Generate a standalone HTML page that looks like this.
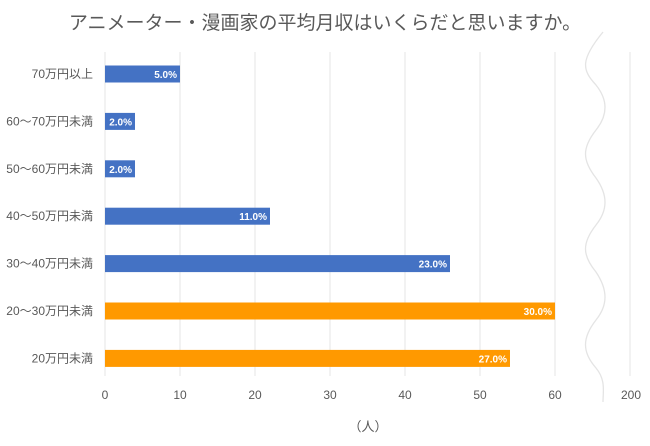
<!DOCTYPE html>
<html><head><meta charset="utf-8"><style>
body{margin:0;background:#fff;}
svg{display:block;font-family:"Liberation Sans","Noto Sans CJK JP",sans-serif;}
</style></head><body>
<svg id="chart" width="650" height="446">
<text x="325" y="29" text-anchor="middle" font-size="19" fill="#595959">アニメーター・漫画家の平均月収はいくらだと思いますか。</text>
<g id="grid"></g><g id="bars"></g><g id="labels"></g>
<path fill="none" stroke="#e4e4e4" stroke-width="1.3" d="M603,32 C580,60 582,70 596,85 C608,100 608,115 596,130 C582,148 582,160 596,178 C608,195 608,210 596,225 C582,243 582,255 596,272 C608,290 608,305 596,320 C582,338 582,352 596,368 C606,380 603,392 603,402"/>
<line x1="630" y1="52" x2="630" y2="376" stroke="#e4e4e4"/>
<text x="631" y="399" text-anchor="middle" font-size="12" fill="#595959">200</text>
<text x="368" y="431" text-anchor="middle" font-size="13" fill="#595959">（人）</text>
</svg>
<script>
const categories=["70万円以上","60～70万円未満","50～60万円未満","40～50万円未満","30～40万円未満","20～30万円未満","20万円未満"];
const values=[10,4,4,22,46,60,54];
const percents=["5.0%","2.0%","2.0%","11.0%","23.0%","30.0%","27.0%"];
const highlight=[false,false,false,false,false,true,true];
const ticks=[0,10,20,30,40,50,60];
const NS="http://www.w3.org/2000/svg";
const x=v=>105+v*7.5;
const y=i=>74+i*47.4;
function mk(tag,attrs,parent){const e=document.createElementNS(NS,tag);for(const k in attrs)e.setAttribute(k,attrs[k]);document.getElementById(parent).appendChild(e);return e;}
ticks.forEach(t=>{
 const l=mk("line",{x1:x(t),x2:x(t),y1:52,y2:376,stroke:"#e4e4e4"},"grid");
 
 
 const tx=mk("text",{x:x(t),y:399,"text-anchor":"middle","font-size":12,fill:"#595959"},"labels");
 tx.textContent=t;
 
 
});
categories.forEach((c,i)=>{
 const r=mk("rect",{x:x(0),y:y(i)-8.5,width:x(values[i])-x(0),height:17,fill:highlight[i]?"#ff9900":"#4472c4"},"bars");
 
 
 const lt=mk("text",{x:93,y:y(i)+4,"text-anchor":"end","font-size":12,fill:"#595959"},"labels");
 lt.textContent=c;
 
 
 const vt=mk("text",{x:x(values[i])-3,y:y(i)+4,"text-anchor":"end","font-size":10,"font-weight":"bold",fill:"#fff"},"labels");
 vt.textContent=percents[i];
 
 
});
</script>
</body></html>
